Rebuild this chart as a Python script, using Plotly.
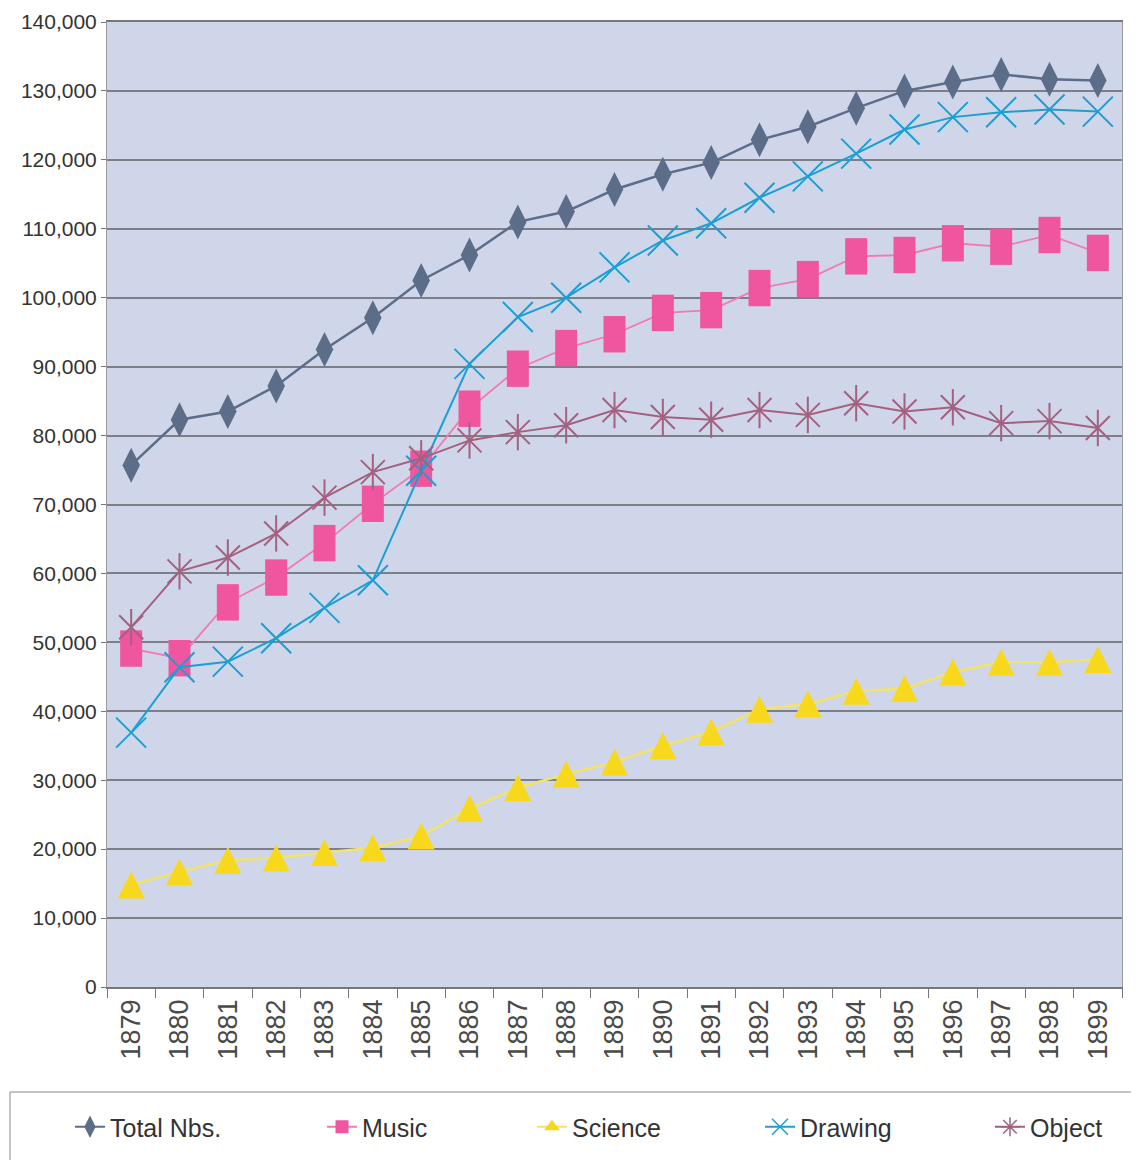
import plotly.graph_objects as go

years = [str(y) for y in range(1879, 1900)]

total_nbs = [75700, 82300, 83500, 87200, 92500, 97100, 102500, 106200, 111000, 112500,
             115700, 117900, 119600, 122900, 124800, 127500, 130000, 131300, 132400, 131700, 131500]
music = [49100, 47700, 55800, 59400, 64400, 70100, 75200, 83900, 89700, 92700,
         94700, 97800, 98200, 101400, 102700, 106000, 106200, 107900, 107400, 109100, 106500]
science = [14800, 16700, 18400, 18700, 19500, 20200, 21900, 25900, 28900, 30900,
           32600, 35000, 37000, 40300, 41100, 42900, 43300, 45700, 47100, 47100, 47500]
drawing = [36900, 46400, 47200, 50600, 55000, 59000, 74900, 90400, 97200, 100000,
           104400, 108300, 110800, 114500, 117600, 120900, 124400, 126200, 126900, 127300, 127000]
obj = [52200, 60300, 62300, 65800, 71000, 74700, 76700, 79300, 80500, 81500,
       83700, 82700, 82300, 83700, 83000, 84700, 83500, 84100, 81800, 82100, 81100]

series_names = ["Total Nbs.", "Music", "Science", "Drawing", "Object"]
y_ticks = list(range(0, 140001, 10000))

C_TOTAL = "#5b6d88"
C_MUSIC = "#f0559f"
C_MUSIC_LINE = "#f27ab0"
C_SCI = "#f7d81c"
C_SCI_LINE = "#f1e36c"
C_DRAW = "#1b9fd2"
C_OBJ = "#a3617f"

fig = go.Figure()

# --- data traces (no legend entries) ---
fig.add_trace(go.Scatter(
    x=years, y=total_nbs, name=series_names[0], mode="lines+markers", showlegend=False,
    line=dict(color=C_TOTAL, width=2.5),
    marker=dict(symbol="diamond-tall", size=25, color=C_TOTAL)))

fig.add_trace(go.Scatter(
    x=years, y=music, name=series_names[1], mode="lines+markers", showlegend=False,
    line=dict(color=C_MUSIC_LINE, width=1.8),
    marker=dict(symbol="line-ns-open", size=26, color=C_MUSIC,
                line=dict(color=C_MUSIC, width=22))))

fig.add_trace(go.Scatter(
    x=years, y=science, name=series_names[2], mode="lines+markers", showlegend=False,
    line=dict(color=C_SCI_LINE, width=2.5),
    marker=dict(symbol="arrow-down", size=27, angle=180, standoff=13.5, color=C_SCI)))

fig.add_trace(go.Scatter(
    x=years, y=drawing, name=series_names[3], mode="lines+markers", showlegend=False,
    line=dict(color=C_DRAW, width=2),
    marker=dict(symbol="x-thin-open", size=30, color=C_DRAW,
                line=dict(color=C_DRAW, width=2))))

fig.add_trace(go.Scatter(
    x=years, y=obj, name=series_names[4], mode="lines+markers", showlegend=False,
    line=dict(color=C_OBJ, width=2),
    marker=dict(symbol="x-thin-open", size=24, color=C_OBJ,
                line=dict(color=C_OBJ, width=2))))

fig.add_trace(go.Scatter(
    x=years, y=obj, name=series_names[4], mode="markers", showlegend=False,
    marker=dict(symbol="line-ns-open", size=26, color=C_OBJ,
                line=dict(color=C_OBJ, width=2))))

# --- legend-only entries, one legend each so they sit where the original puts them ---
legend_styles = [
    dict(line=dict(color=C_TOTAL, width=2), marker=dict(symbol="diamond-tall", size=16, color=C_TOTAL)),
    dict(line=dict(color=C_MUSIC_LINE, width=2), marker=dict(symbol="square", size=13, color=C_MUSIC)),
    dict(line=dict(color=C_SCI_LINE, width=2), marker=dict(symbol="triangle-up", size=14, color=C_SCI)),
    dict(line=dict(color=C_DRAW, width=2), marker=dict(symbol="x-thin-open", size=16, color=C_DRAW,
                                                         line=dict(color=C_DRAW, width=1.5))),
    dict(line=dict(color=C_OBJ, width=2), marker=dict(symbol="asterisk-open", size=16, color=C_OBJ,
                                                        line=dict(color=C_OBJ, width=1.5))),
]
legend_ids = ["legend", "legend2", "legend3", "legend4", "legend5"]
for name, st, lid in zip(series_names, legend_styles, legend_ids):
    fig.add_trace(go.Scatter(x=[years[0]], y=[None], name=name, mode="lines+markers",
                             legend=lid, **st))

# plot area in screen px (page has an 8px body margin)
PL, PR, PT, PB = 107, 1122, 22, 987
OFF = 8
W, H = 1139 - OFF, 1160 - OFF
pw, ph = PR - PL, PB - PT

def px_x(sx):
    return (sx - PL) / pw

def px_y(sy):
    return (PB - sy) / ph

narrow = "Liberation Sans, Arial, sans-serif"
legend_font = dict(family=narrow, size=25, color="#333333")
legend_text_x = [70, 322, 532, 760, 990]
legends = {}
for lid, sx in zip(legend_ids, legend_text_x):
    legends[lid] = dict(x=px_x(sx), xanchor="left", y=px_y(1127), yanchor="middle",
                        font=legend_font, bgcolor="rgba(0,0,0,0)", borderwidth=0,
                        orientation="h")

fig.update_layout(
    width=W, height=H,
    margin=dict(l=PL - OFF, r=1139 - PR, t=PT - OFF, b=H - (PB - OFF), autoexpand=False),
    paper_bgcolor="white",
    plot_bgcolor="#d0d6ea",
    showlegend=True,
    shapes=[dict(type="rect", xref="paper", yref="paper",
                 x0=px_x(10), x1=1.1, y0=px_y(1092), y1=px_y(1300),
                 line=dict(color="#8a8a8a", width=1), fillcolor="rgba(0,0,0,0)",
                 layer="below")],
    **legends,
)

fig.update_xaxes(
    type="category", categoryorder="array", categoryarray=years,
    range=[-0.5, len(years) - 0.5], autorange=False,
    tickangle=-90, ticks="outside", tickson="boundaries", ticklen=9,
    tickcolor="#777777", tickwidth=1, automargin=False,
    showline=True, linecolor="#777777", linewidth=1.5, mirror=True,
    showgrid=False,
    tickfont=dict(family="Liberation Sans, Arial, sans-serif", size=27, color="#4a4a4a"),
)

fig.update_yaxes(
    range=[0, 140000], tickvals=y_ticks, tickformat=",",
    ticks="outside", ticklen=5, tickcolor="#777777", automargin=False,
    showline=True, linecolor="#9a9a9a", linewidth=1, mirror=True,
    showgrid=True, gridcolor="#7c7e88", gridwidth=1.5, zeroline=False,
    tickfont=dict(family=narrow, size=21, color="#333333"),
)

fig.write_html("out.html")
